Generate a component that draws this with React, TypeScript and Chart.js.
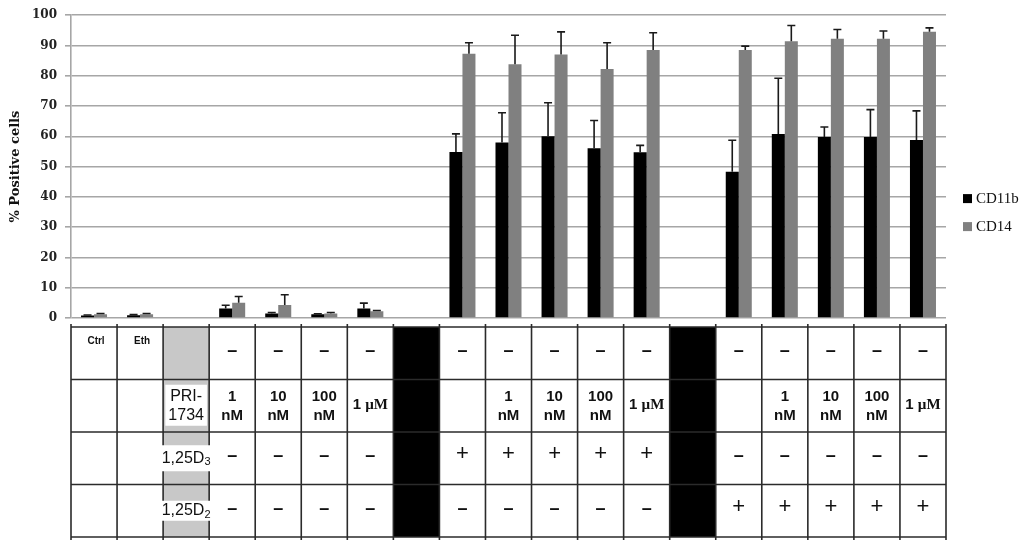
import { useEffect, useRef } from 'react';
import { Chart, registerables } from 'chart.js';

Chart.register(...registerables);

// ---- data ----
const categories = [
  'Ctrl', 'Eth', 'PRI-1734', '1 nM', '10 nM', '100 nM', '1 µM', 'sep1',
  '1,25D3', '1,25D3 + 1 nM', '1,25D3 + 10 nM', '1,25D3 + 100 nM', '1,25D3 + 1 µM', 'sep2',
  '1,25D2', '1,25D2 + 1 nM', '1,25D2 + 10 nM', '1,25D2 + 100 nM', '1,25D2 + 1 µM',
];
const cd11b = [0.8, 0.9, null, 3.1, 1.5, 1.2, 3.1, null, 54.8, 58.0, 60.0, 56.1, 54.7, null, 48.3, 60.8, 59.8, 59.8, 58.8];
const cd11bErr = [0.2, 0.2, null, 1.1, 0.3, 0.2, 1.8, null, 6.0, 9.8, 11.1, 9.1, 2.3, null, 10.4, 18.4, 3.3, 9.0, 9.6];
const cd14 = [1.2, 1.2, null, 5.0, 4.3, 1.5, 2.2, null, 87.3, 83.8, 87.0, 82.2, 88.5, null, 88.5, 91.4, 92.2, 92.2, 94.5];
const cd14Err = [0.3, 0.3, null, 2.1, 3.4, 0.3, 0.3, null, 3.6, 9.6, 7.5, 8.7, 5.7, null, 1.3, 5.2, 3.1, 2.6, 1.3];
const seriesNames = ['CD11b', 'CD14'];
const yMin = 0;
const yMax = 100;
const yStep = 10;
const yTitle = '% Positive cells';

// condition table below the chart ('#' = black separator column)
const rowTop = ['Ctrl', 'Eth', '', '–', '–', '–', '–', '#', '–', '–', '–', '–', '–', '#', '–', '–', '–', '–', '–'];
const rowPri = ['', '', 'PRI-\n1734', '1\nnM', '10\nnM', '100\nnM', '1 µM', '#', '', '1\nnM', '10\nnM', '100\nnM', '1 µM', '#', '', '1\nnM', '10\nnM', '100\nnM', '1 µM'];
const rowD3 = ['', '', '1,25D_3', '–', '–', '–', '–', '#', '+', '+', '+', '+', '+', '#', '–', '–', '–', '–', '–'];
const rowD2 = ['', '', '1,25D_2', '–', '–', '–', '–', '#', '–', '–', '–', '–', '–', '#', '+', '+', '+', '+', '+'];

const SANS = '"Liberation Sans", Arial, sans-serif';
const SERIF_T = '"Liberation Serif", "Times New Roman", serif';
const SERIF_D = '"DejaVu Serif", serif';

const errorBarPlugin = {
  id: 'errorBars',
  afterDatasetsDraw(chart: any) {
    const ctx = chart.ctx;
    const ys = chart.scales.y;
    const errs = [cd11bErr, cd14Err];
    ctx.save();
    ctx.strokeStyle = '#1a1a1a';
    ctx.lineWidth = 1.6;
    chart.data.datasets.forEach((ds: any, di: number) => {
      const meta = chart.getDatasetMeta(di);
      meta.data.forEach((el: any, j: number) => {
        const v = ds.data[j];
        const e = errs[di][j];
        if (v == null || e == null) return;
        const yTop = ys.getPixelForValue(v + e);
        const yBase = ys.getPixelForValue(v);
        ctx.beginPath();
        ctx.moveTo(el.x, yBase);
        ctx.lineTo(el.x, yTop);
        ctx.moveTo(el.x - 4, yTop);
        ctx.lineTo(el.x + 4, yTop);
        ctx.stroke();
      });
    });
    ctx.restore();
  },
};

function drawMixed(ctx: CanvasRenderingContext2D, parts: { t: string; f: string }[], cx: number, cy: number) {
  let total = 0;
  const ws = parts.map((p) => {
    ctx.font = p.f;
    const w = ctx.measureText(p.t).width;
    total += w;
    return w;
  });
  let x = cx - total / 2;
  ctx.textAlign = 'left';
  parts.forEach((p, i) => {
    ctx.font = p.f;
    ctx.fillText(p.t, x, cy);
    x += ws[i];
  });
}

const tablePlugin = {
  id: 'conditionTable',
  afterDraw(chart: any) {
    const ctx: CanvasRenderingContext2D = chart.ctx;
    const xs = chart.scales.x;
    const area = chart.chartArea;
    const n = categories.length;
    const colW = (xs.right - xs.left) / n;
    const top = area.bottom + 9;
    const bottom = chart.height - 4;
    const rows = [rowTop, rowPri, rowD3, rowD2];
    const rowH = (bottom - top) / rows.length;
    const left = (i: number) => xs.getPixelForValue(i) - colW / 2;
    const headerCol = categories.indexOf('PRI-1734');

    ctx.save();
    // fills
    for (let i = 0; i < n; i++) {
      if (rowTop[i] === '#') {
        ctx.fillStyle = '#000';
        ctx.fillRect(left(i), top, colW, bottom - top);
      } else if (i === headerCol) {
        ctx.fillStyle = '#c8c8c8';
        ctx.fillRect(left(i), top, colW, bottom - top);
      }
    }
    // grid lines
    ctx.strokeStyle = '#2b2b2b';
    ctx.lineWidth = 1.6;
    ctx.beginPath();
    for (let r = 0; r <= rows.length; r++) {
      const y = top + r * rowH;
      ctx.moveTo(left(0), y);
      ctx.lineTo(left(n - 1) + colW, y);
    }
    for (let i = 0; i <= n; i++) {
      const x = i < n ? left(i) : left(n - 1) + colW;
      ctx.moveTo(x, top - 3);
      ctx.lineTo(x, bottom + 3);
    }
    ctx.stroke();

    // texts
    ctx.fillStyle = '#111';
    ctx.textBaseline = 'middle';
    rows.forEach((row, r) => {
      const cyRow = top + r * rowH + rowH / 2;
      row.forEach((txt, i) => {
        if (!txt || txt === '#') return;
        const cx = xs.getPixelForValue(i);
        if (txt === '–' || txt === '+') {
          ctx.textAlign = 'center';
          if (txt === '–') {
            ctx.font = `bold 18px ${SANS}`;
            ctx.fillText('–', cx, cyRow - 2);
          } else {
            ctx.font = `22px ${SANS}`;
            ctx.fillText('+', cx, cyRow - 4);
          }
          return;
        }
        if (r === 0) {
          ctx.textAlign = 'center';
          ctx.font = `bold 10px ${SANS}`;
          ctx.fillText(txt, cx + 2, top + 14);
          return;
        }
        if (i === headerCol) {
          if (txt.includes('_')) {
            const [main, sub] = txt.split('_');
            ctx.font = `16px ${SANS}`;
            const wm = ctx.measureText(main).width;
            ctx.font = `11px ${SANS}`;
            const wsb = ctx.measureText(sub).width;
            const w = wm + wsb;
            const bh = r === 2 ? 26 : 20;
            ctx.fillStyle = '#fff';
            ctx.fillRect(cx - w / 2 - 2, cyRow - bh / 2, w + 4, bh);
            ctx.fillStyle = '#111';
            ctx.textAlign = 'left';
            ctx.font = `16px ${SANS}`;
            ctx.fillText(main, cx - w / 2, cyRow);
            ctx.font = `11px ${SANS}`;
            ctx.fillText(sub, cx - w / 2 + wm, cyRow + 4);
          } else {
            const lines = txt.split('\n');
            ctx.font = `16px ${SANS}`;
            const w = Math.max(...lines.map((l) => ctx.measureText(l).width));
            ctx.fillStyle = '#fff';
            ctx.fillRect(cx - w / 2 - 3, cyRow - 21, w + 6, 41);
            ctx.fillStyle = '#111';
            ctx.textAlign = 'center';
            lines.forEach((l, k) => ctx.fillText(l, cx, cyRow - 9 + k * 19));
          }
          return;
        }
        if (txt.includes('µM') && !txt.includes('\n')) {
          drawMixed(ctx, [
            { t: '1 ', f: `bold 15px ${SANS}` },
            { t: 'µM', f: `bold 15px ${SERIF_T}` },
          ], cx, cyRow - 1);
          return;
        }
        const lines = txt.split('\n');
        ctx.textAlign = 'center';
        ctx.font = `bold 15px ${SANS}`;
        lines.forEach((l, k) => ctx.fillText(l, cx, cyRow - 9 + k * 19));
      });
    });

    // legend
    const colors = ['#000000', '#808080'];
    const lx = area.right + 17;
    const ly0 = (area.top + area.bottom) / 2 + 32;
    seriesNames.forEach((name, k) => {
      const y = ly0 + k * 28;
      ctx.fillStyle = colors[k];
      ctx.fillRect(lx, y - 4.5, 9, 9);
      ctx.fillStyle = '#111';
      ctx.textAlign = 'left';
      ctx.textBaseline = 'middle';
      ctx.font = `15px ${SERIF_T}`;
      ctx.fillText(name, lx + 13, y);
    });
    ctx.restore();
  },
};

export default function App() {
  const ref = useRef<HTMLCanvasElement | null>(null);
  useEffect(() => {
    document.body.style.margin = '0';
    if (!ref.current) return;
    const chart = new Chart(ref.current, {
      type: 'bar',
      data: {
        labels: categories,
        datasets: [
          { label: seriesNames[0], data: cd11b, backgroundColor: '#000000', categoryPercentage: 0.565, barPercentage: 1 },
          { label: seriesNames[1], data: cd14, backgroundColor: '#808080', categoryPercentage: 0.565, barPercentage: 1 },
        ],
      },
      options: {
        animation: false,
        responsive: false,
        devicePixelRatio: 1,
        layout: { padding: { left: 0, right: 78, top: 15, bottom: 223 } },
        plugins: { legend: { display: false }, tooltip: { enabled: false } },
        scales: {
          x: { display: false },
          y: {
            min: yMin,
            max: yMax,
            ticks: { stepSize: yStep, color: '#222', font: { family: SERIF_D, size: 12, weight: 'bold' }, padding: 8 },
            grid: { color: '#a6a6a6', lineWidth: 1.6, tickLength: 6, tickColor: '#a6a6a6' },
            border: { color: '#a6a6a6', width: 1.6 },
            title: { display: true, text: yTitle, color: '#111', font: { family: SERIF_D, size: 13, weight: 'bold' }, padding: { top: 8, bottom: 4 } },
            afterFit: (s: any) => { s.width = 71; },
          },
        },
      },
      plugins: [errorBarPlugin, tablePlugin],
    } as any);
    return () => chart.destroy();
  }, []);
  return (
    <div style={{ width: 1024, height: 541 }}>
      <canvas ref={ref} width={1024} height={541} style={{ display: 'block' }} />
    </div>
  );
}
